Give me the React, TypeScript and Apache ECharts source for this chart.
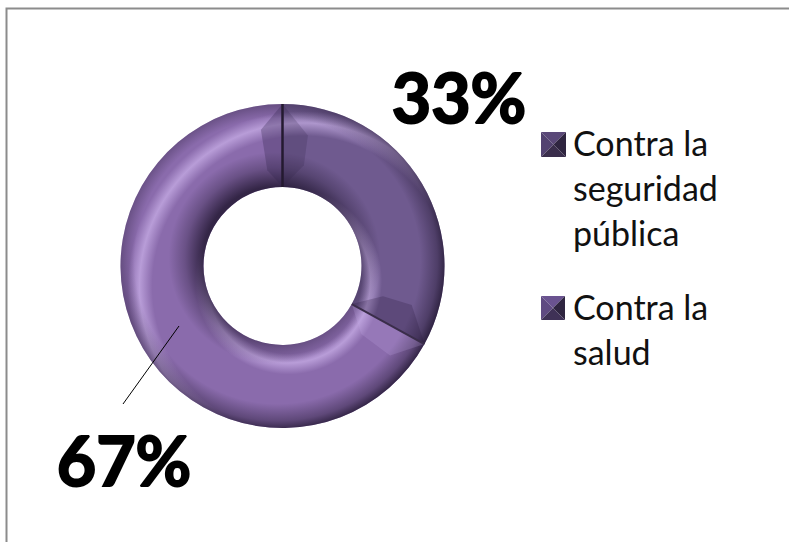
import React, { useEffect, useRef } from "react";
import * as echarts from "echarts";

const categories = ["Contra la\nseguridad\npública", "Contra la\nsalud"];
const seriesValues = [33, 67];
const sliceColors = ["#6f5a8f", "#8a6bac"];

const CX = 282.5;
const CY = 266;
const R0 = 79;
const R1 = 162;
const FONT = "Lato, 'Open Sans', sans-serif";

const radial = (dx: number, dy: number, r: number, stops: [number, string][]) => ({
  type: "radial",
  x: CX + dx,
  y: CY + dy,
  r,
  global: true,
  colorStops: stops.map(([offset, color]) => ({ offset, color })),
});

const pieData = (colors: any[]) =>
  categories.map((name, i) => ({ name, value: seriesValues[i], itemStyle: { color: colors[i] } }));

const overlay = (fill: any, z: number) => ({
  type: "pie",
  radius: [R0, R1],
  center: [CX, CY],
  startAngle: 90,
  clockwise: true,
  silent: true,
  z,
  label: { show: false },
  labelLine: { show: false },
  emphasis: { disabled: true },
  data: pieData([fill, fill]),
});

const LIGHT = "215,190,245";
const DARK = "30,20,45";
const outerLight = radial(20, 20, 190, [
  [0, `rgba(${LIGHT},0)`],
  [0.79, `rgba(${LIGHT},0)`],
  [0.858, `rgba(${LIGHT},0.6)`],
  [0.92, `rgba(${LIGHT},0)`],
  [1, `rgba(${LIGHT},0)`],
]);
const innerLight = radial(6, 15, 110, [
  [0, `rgba(${LIGHT},0)`],
  [0.66, `rgba(${LIGHT},0)`],
  [0.745, `rgba(${LIGHT},0.6)`],
  [0.85, `rgba(${LIGHT},0)`],
  [1, `rgba(${LIGHT},0)`],
]);
const outerShade = radial(-5, -5, 170, [
  [0, `rgba(${DARK},0)`],
  [0.84, `rgba(${DARK},0)`],
  [0.94, `rgba(${DARK},0.4)`],
  [1, `rgba(${DARK},0.85)`],
]);
const innerShade = radial(-8, -8, 115, [
  [0, `rgba(${DARK},0.9)`],
  [0.62, `rgba(${DARK},0.8)`],
  [0.78, `rgba(${DARK},0.3)`],
  [0.92, `rgba(${DARK},0)`],
  [1, `rgba(${DARK},0)`],
]);

const pt = (deg: number, r: number) => {
  const a = (deg * Math.PI) / 180;
  return [CX + r * Math.sin(a), CY - r * Math.cos(a)];
};

const facet = (points: number[][], fill: string) => ({
  type: "polygon",
  silent: true,
  z: 9,
  shape: { points },
  style: { fill },
});

const bevelIcon = (x: number, y: number, s: number, top: string, left: string, right: string, bottom: string) => {
  const c = [x + s / 2, y + s / 2];
  const tl = [x, y], tr = [x + s, y], br = [x + s, y + s], bl = [x, y + s];
  const tri = (a: number[], b: number[], fill: string) => ({
    type: "polygon",
    silent: true,
    shape: { points: [a, b, c] },
    style: { fill },
    z: 20,
  });
  return [tri(tl, tr, top), tri(tl, bl, left), tri(tr, br, right), tri(bl, br, bottom)];
};

const seamDeg = (seriesValues[0] / (seriesValues[0] + seriesValues[1])) * 360;

const legendBase = {
  left: 543,
  orient: "vertical",
  itemWidth: 20,
  itemGap: 0,
  icon: "rect",
  itemStyle: { opacity: 0 },
  selectedMode: false,
  textStyle: { fontFamily: FONT, fontSize: 34, lineHeight: 45, color: "#111111", opacity: 1 },
};

export default function App() {
  const ref = useRef<HTMLDivElement>(null);
  useEffect(() => {
    const chart = echarts.init(ref.current!, null, { renderer: "svg" });
    const labelPos = [
      { x: 459, y: 96 },
      { x: 124, y: 459 },
    ];
    chart.setOption({
      animation: false,
      backgroundColor: "#ffffff",
      legend: [
        { ...legendBase, top: 115, data: [categories[0]], itemHeight: 130 },
        { ...legendBase, top: 279, data: [categories[1]], itemHeight: 88 },
      ],
      series: [
        {
          type: "pie",
          radius: [R0, R1],
          center: [CX, CY],
          startAngle: 90,
          clockwise: true,
          silent: true,
          z: 2,
          data: pieData(sliceColors),
          label: {
            show: true,
            position: "outside",
            overflow: "none",
            formatter: "{d}%",
            fontFamily: FONT,
            fontWeight: "bold",
            fontSize: 68,
            color: "#000000",
            textBorderColor: "#000000",
            textBorderWidth: 2,
          },
          labelLine: { show: false },
          labelLayout: (p: any) => ({
            x: labelPos[p.dataIndex].x,
            y: labelPos[p.dataIndex].y,
            align: "center",
            verticalAlign: "middle",
          }),
        },
        overlay(innerLight, 3),
        overlay(outerLight, 4),
        overlay(innerShade, 5),
        overlay(outerShade, 6),
      ],
      graphic: [
        {
          type: "rect",
          silent: true,
          z: -1,
          shape: { x: 6.5, y: 8.5, width: 800, height: 600 },
          style: { fill: "none", stroke: "#8c8c8c", lineWidth: 2 },
        },
        facet([pt(0, R1), pt(-9, 138), pt(-9, 97), pt(0, R0)], "rgba(50,35,75,0.3)"),
        facet([pt(0, R1), pt(11, 133), pt(12, 103), pt(0, R0)], "rgba(50,35,75,0.22)"),
        facet([pt(seamDeg, R0), pt(seamDeg - 12, 105), pt(seamDeg - 12, 135), pt(seamDeg, R1)], "rgba(40,25,60,0.25)"),
        facet([pt(seamDeg, R0), pt(seamDeg + 12, 104), pt(seamDeg + 11, 140), pt(seamDeg, R1)], "rgba(200,175,235,0.2)"),
        {
          type: "line",
          silent: true,
          z: 10,
          shape: { x1: CX, y1: CY - R1, x2: CX, y2: CY - R0 },
          style: { stroke: "#241a30", lineWidth: 2.5 },
        },
        {
          type: "line",
          silent: true,
          z: 10,
          shape: {
            x1: pt(seamDeg, R0)[0],
            y1: pt(seamDeg, R0)[1],
            x2: pt(seamDeg, R1)[0],
            y2: pt(seamDeg, R1)[1],
          },
          style: { stroke: "#3a2d4a", lineWidth: 2 },
        },
        {
          type: "line",
          silent: true,
          z: 10,
          shape: { x1: 179, y1: 326, x2: 123, y2: 404 },
          style: { stroke: "#000000", lineWidth: 1 },
        },
        ...bevelIcon(541, 132, 25, "#5a4878", "#524270", "#2f2540", "#3a2e4c"),
        ...bevelIcon(541, 296, 24, "#6a5390", "#5f4a82", "#2f2540", "#3f3156"),
      ],
    });
    return () => chart.dispose();
  }, []);
  return (
    <div
      ref={ref}
      style={{ position: "absolute", left: 0, top: 0, width: 789, height: 542 }}
    />
  );
}
